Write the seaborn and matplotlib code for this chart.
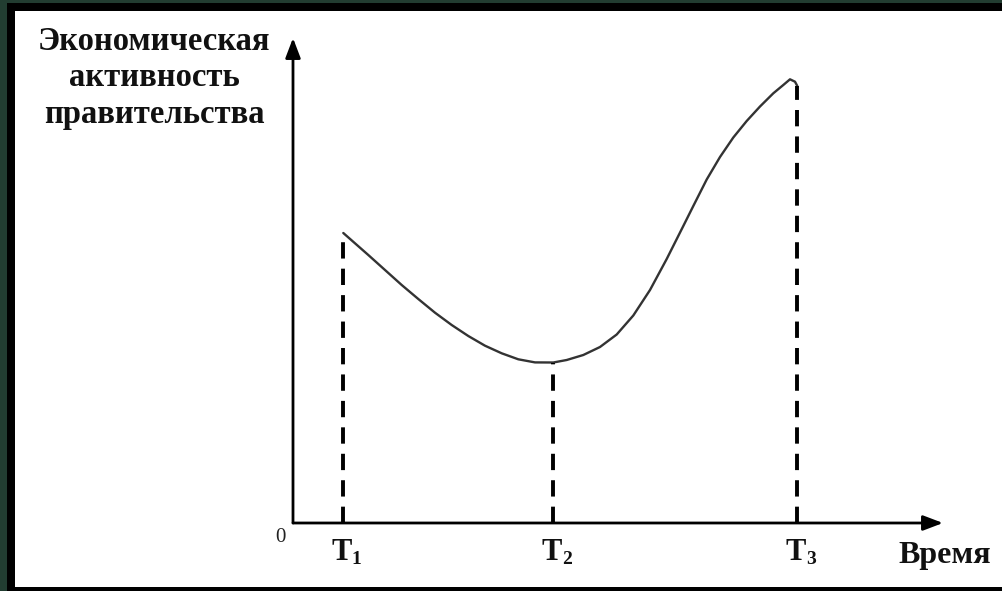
import matplotlib
matplotlib.use("Agg")
import matplotlib.pyplot as plt
from matplotlib.patches import Rectangle
import seaborn as sns
import pandas as pd

# ---- data ----
time_vals = [5.03, 6.2, 7.53, 9.2, 10.87, 12.53, 14.2, 15.87, 17.53, 19.2, 20.87,
             22.53, 24.2, 26.03, 27.37, 29.03, 30.7, 32.37, 34.03, 35.7, 37.37,
             39.03, 40.03, 41.37, 42.7, 44.03, 45.37, 46.7, 48.03, 49.03, 49.7,
             50.2, 50.43]
activity_vals = [29.0, 27.97, 26.8, 25.3, 23.8, 22.4, 21.03, 19.8, 18.7, 17.73, 16.97,
                 16.37, 16.06, 16.05, 16.3, 16.8, 17.6, 18.85, 20.75, 23.3, 26.4,
                 29.7, 31.7, 34.35, 36.6, 38.55, 40.2, 41.65, 42.97, 43.8, 44.37,
                 44.13, 43.7]
t_marks = [5.03, 26.03, 50.43]
t_heights = [29.0, 16.05, 43.7]
t_labels = ["1", "2", "3"]
y_title_lines = ["Экономическая", "активность", "правительства"]
x_title = "Время"
origin_label = "0"

sns.set_theme(style="white")
plt.rcParams["font.family"] = ["Liberation Serif", "DejaVu Serif"]

W, H = 1003, 591
fig = plt.figure(figsize=(W / 100, H / 100), dpi=100)
fig.patch.set_facecolor("#223d31")
fig.patches.append(Rectangle((7 / W, 0), 1, (H - 3) / H, transform=fig.transFigure,
                             facecolor="black", edgecolor="none", zorder=-2))
fig.patches.append(Rectangle((15 / W, 4 / H), 1, 576 / H, transform=fig.transFigure,
                             facecolor="white", edgecolor="none", zorder=-1))

# axes mapped so origin sits at pixel (293, 523)
ax = fig.add_axes([293 / W, (H - 523) / H, 650 / W, 485 / H])
ax.set_xlim(0, 65)
ax.set_ylim(0, 48.5)
ax.patch.set_alpha(0)
for s in ax.spines.values():
    s.set_visible(False)
ax.set_xticks([])
ax.set_yticks([])

df = pd.DataFrame({"t": time_vals, "a": activity_vals})
sns.lineplot(data=df, x="t", y="a", sort=False, estimator=None, ax=ax,
             color="#333333", linewidth=1.7)
ax.set_xlabel("")
ax.set_ylabel("")

ax.vlines(t_marks, 0, t_heights, colors="black", linewidth=2.8,
          linestyles=(0, (4.2, 2.6)))

# axes arrows
arrow = dict(arrowstyle="-|>,head_length=1.0,head_width=0.38", color="black",
             linewidth=2.0, shrinkA=0, shrinkB=0)
ax.annotate("", xy=(65, 0), xytext=(0, 0), arrowprops=arrow, annotation_clip=False)
ax.annotate("", xy=(0, 48.5), xytext=(0, 0), arrowprops=arrow, annotation_clip=False)

# labels
for x, lab in zip(t_marks, t_labels):
    ax.text(x - 0.2, -3.0, "T", ha="center", va="center", fontsize=22,
            fontweight="bold", color="#111111")
    ax.text(x + 1.35, -3.7, lab, ha="center", va="center", fontsize=14,
            fontweight="bold", color="#111111")
ax.text(-1.3, -1.4, origin_label, ha="center", va="center", fontsize=15, color="#222222")
ax.text(69.8, -3.2, x_title, ha="right", va="center", fontsize=23, fontweight="bold",
        color="#111111", clip_on=False)

for i, line in enumerate(y_title_lines):
    fig.text(154 / W, 1 - (42 + i * 36) / H, line, ha="center", va="center",
             fontsize=23.5, fontweight="bold", color="#111111")

fig.savefig("out.png", dpi=100, facecolor=fig.get_facecolor())
